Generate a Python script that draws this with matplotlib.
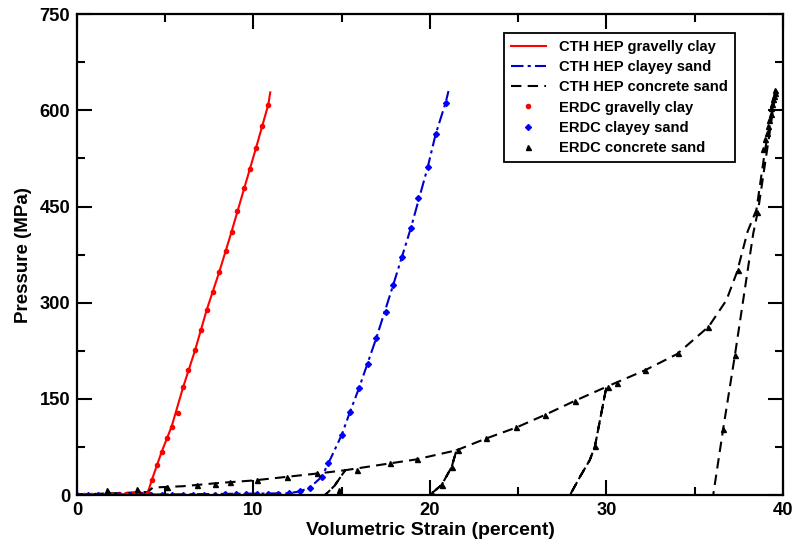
import numpy as np
import matplotlib
matplotlib.use("Agg")
import matplotlib.pyplot as plt
from matplotlib.ticker import MultipleLocator

plt.rcParams['font.family'] = ['Liberation Sans', 'DejaVu Sans']
plt.rcParams['font.weight'] = 'bold'

# CTH HEP model curves
cth_clay_x = [0, 1, 2, 3, 4.0, 4.23, 4.8, 5.36, 6.02, 6.69, 7.35, 8.06, 8.76, 9.48, 10.14, 10.84, 10.95]
cth_clay_y = [1, 1, 1, 2, 3, 23, 68, 107, 169, 226, 289, 348, 411, 479, 541, 609, 628]

cth_csand_x = [0, 4, 8, 12, 12.63, 13.2, 13.86, 14.24, 15.0, 15.47, 15.98, 16.96, 17.92,
               18.92, 19.87, 20.32, 20.89, 21.05]
cth_csand_y = [1, 1, 2, 3, 6, 12, 28.6, 49.5, 94, 130, 167, 245, 328, 416.7, 511, 562.5, 612, 630]

cth_conc_x = [0, 2, 4, 4.3, 6, 8, 10, 12, 14, 15.2, 14.6, 14.05, 14.6, 15.2, 17.7, 19.2,
              21.5, 21.23, 20.66, 20.1, 20.66, 21.23, 21.5, 23.2, 24.9, 26.5, 28.2, 30.0,
              29.35, 29.06, 28.5, 27.93, 28.5, 29.06, 29.35, 30.0, 32.2, 34.0, 35.8, 36.8,
              37.4, 38.0, 38.5, 39.0, 39.4, 39.6, 38.6, 38.32, 37.75, 37.28, 36.62, 36.05]
cth_conc_y = [1, 3, 5, 12, 14, 19, 23, 29, 35, 39, 15, 0, 15, 39, 49.5, 55.7,
              70, 44, 16, 3, 16, 44, 70, 88.6, 105.6, 125, 147, 169,
              76.5, 55, 28.6, 0, 28.6, 55, 76.5, 169, 195, 220, 263, 304,
              348, 411, 445, 540, 600, 630, 445, 408, 304, 218, 104, 0]

# ERDC test data
erdc_clay_x = [0, 0.4, 0.8, 1.2, 1.6, 2.0, 2.4, 2.8, 3.2, 3.6, 4.0, 4.23, 4.51, 4.8, 5.08,
               5.36, 5.74, 6.02, 6.31, 6.69, 7.03, 7.35, 7.72, 8.06, 8.42, 8.76, 9.08,
               9.48, 9.8, 10.14, 10.46, 10.84]
erdc_clay_y = [1, 1, 1, 1, 1, 1, 2, 2, 2, 2, 3, 23, 47, 68, 88.6,
               107, 128, 169, 195, 226, 258, 289, 317, 348, 380, 411, 443,
               479, 508, 541, 575, 609]

erdc_csand_x = [0, 0.6, 1.2, 1.8, 2.4, 3.0, 3.6, 4.2, 4.8, 5.4, 6.0, 6.6, 7.2, 7.8, 8.4,
                9.0, 9.6, 10.2, 10.8, 11.4, 12.0, 12.63, 13.2, 13.86, 14.24, 15.0, 15.47,
                15.98, 16.47, 16.96, 17.49, 17.92, 18.4, 18.92, 19.34, 19.87, 20.32, 20.89]
erdc_csand_y = [1, 1, 1, 1, 1, 1, 1, 1, 1, 1, 1, 1, 1, 1, 2,
                2, 2, 2, 2, 2, 3, 6, 12, 28.6, 49.5, 94, 130,
                167, 205, 245, 286, 328, 372, 416.7, 463.6, 511, 562.5, 612]

erdc_conc_x = [0.2, 1.68, 3.38, 5.08, 6.78, 7.82, 8.67, 10.18, 11.88, 13.58, 14.05, 14.86,
               15.85, 17.73, 19.24, 20.1, 20.66, 21.23, 21.6, 23.2, 24.9, 26.5, 28.2,
               27.93, 29.35, 30.1, 30.58, 32.2, 34.07, 35.77, 37.47, 38.51, 36.62, 37.28,
               38.9, 39.0, 39.1, 39.15, 39.2, 39.3, 39.35, 39.4, 39.45, 39.5, 39.55, 39.58]
erdc_conc_y = [1, 8, 10, 13, 15.6, 18, 21, 23, 28.6, 34, 0, 8,
               40, 49.5, 55.7, 3, 16, 44, 70, 88.6, 105.6, 125, 147,
               0, 76.5, 169, 175, 195, 221, 263, 351, 442, 104, 218,
               540, 555, 565, 575, 585, 595, 603, 610, 617, 622, 627, 632]

fig = plt.figure(figsize=(7.94, 5.43), dpi=100)
ax = fig.add_axes([0.097, 0.088, 0.889, 0.886])

ax.plot(cth_clay_x, cth_clay_y, color='#ff0000', lw=1.5, label='CTH HEP gravelly clay')
ax.plot(cth_csand_x, cth_csand_y, color='#0000cc', lw=1.5, dashes=[6, 2, 1.5, 2],
        label='CTH HEP clayey sand')
ax.plot(cth_conc_x, cth_conc_y, color='black', lw=1.5, dashes=[5, 3],
        label='CTH HEP concrete sand')
ax.plot(erdc_clay_x, erdc_clay_y, ls='none', marker='o', ms=3, color='#ff0000',
        label='ERDC gravelly clay')
ax.plot(erdc_csand_x, erdc_csand_y, ls='none', marker='D', ms=3, color='#0000ff',
        label='ERDC clayey sand')
ax.plot(erdc_conc_x, erdc_conc_y, ls='none', marker='^', ms=3.6, color='black',
        label='ERDC concrete sand')

ax.set_xlim(0, 40)
ax.set_ylim(0, 750)
ax.xaxis.set_major_locator(MultipleLocator(10))
ax.xaxis.set_minor_locator(MultipleLocator(5))
ax.yaxis.set_major_locator(MultipleLocator(150))
ax.yaxis.set_minor_locator(MultipleLocator(75))
ax.tick_params(which='both', direction='in', top=True, right=True, width=1.5,
               labelsize=13.2)
ax.tick_params(which='major', length=10.5, pad=5)
ax.tick_params(which='minor', length=6)
for s in ax.spines.values():
    s.set_linewidth(1.6)

ax.set_xlabel('Volumetric Strain (percent)', fontsize=14, fontweight='bold', labelpad=2)
ax.set_ylabel('Pressure (MPa)', fontsize=13.5, fontweight='bold', labelpad=5)

leg = ax.legend(loc='upper right', bbox_to_anchor=(0.932, 0.960), borderaxespad=0,
                fontsize=10.6, fancybox=False, framealpha=1, edgecolor='black',
                handlelength=2.4, borderpad=0.45, labelspacing=0.42, handletextpad=0.9)
leg.get_frame().set_linewidth(1.3)

fig.savefig('out.png', dpi=100)
